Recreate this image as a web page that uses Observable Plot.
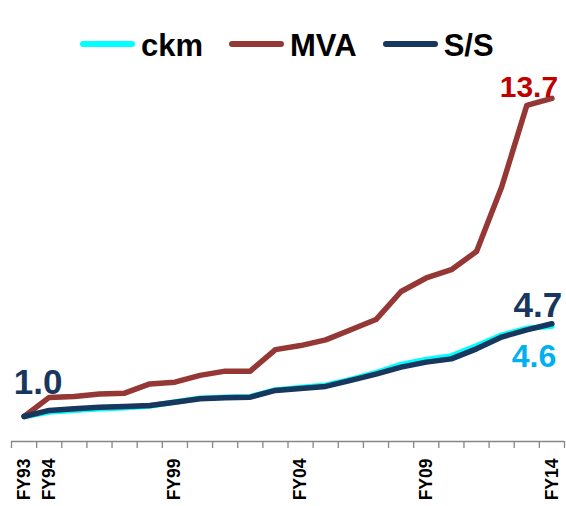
<!DOCTYPE html>
<html>
<head>
<meta charset="utf-8">
<script src="https://cdn.jsdelivr.net/npm/d3@7"></script>
<script src="https://cdn.jsdelivr.net/npm/@observablehq/plot@0.6"></script>
<style>
  html, body { margin: 0; padding: 0; background: #fff; }
  body { width: 566px; height: 506px; overflow: hidden; font-family: "Liberation Sans", Arial, sans-serif; }
  #legend { position: relative; height: 60px; }
  #legend .row { position: absolute; top: 30px; left: 80px; display: flex; align-items: center; white-space: nowrap; }
  #legend .item { display: flex; align-items: center; margin-right: 26px; }
  #legend .sw { width: 55px; height: 6px; border-radius: 3px; margin-right: 6px; margin-bottom: 3px; }
  #legend .lab { font-weight: bold; font-size: 31px; line-height: 31px; color: #000; }
  #chart svg { display: block; overflow: visible; }
</style>
</head>
<body>
<div id="legend"><div class="row"></div></div>
<div id="chart"></div>
<script>
const categories = ["FY93","FY94","FY95","FY96","FY97","FY98","FY99","FY00","FY01","FY02","FY03",
                    "FY04","FY05","FY06","FY07","FY08","FY09","FY10","FY11","FY12","FY13","FY14"];
const ckm = [1.0, 1.18, 1.25, 1.31, 1.35, 1.42, 1.58, 1.73, 1.77, 1.79, 2.06,
             2.16, 2.25, 2.48, 2.75, 3.08, 3.28, 3.42, 3.82, 4.25, 4.52, 4.6];
const mva = [1.0, 1.76, 1.80, 1.90, 1.93, 2.30, 2.37, 2.64, 2.81, 2.81, 3.67,
             3.83, 4.06, 4.46, 4.87, 5.99, 6.53, 6.86, 7.59, 10.16, 13.42, 13.7];
const ss  = [1.0, 1.24, 1.31, 1.37, 1.40, 1.44, 1.57, 1.71, 1.75, 1.77, 2.04,
             2.12, 2.20, 2.44, 2.69, 2.97, 3.17, 3.30, 3.70, 4.17, 4.46, 4.7];
const seriesNames = ["ckm", "MVA", "S/S"];
const tickLabels = ["FY93","FY94","FY99","FY04","FY09","FY14"];

const colors = {ckm: "#00FFFF", "MVA": "#953735", "S/S": "#17375E"};

// legend
const row = document.querySelector("#legend .row");
seriesNames.forEach(n => {
  const it = document.createElement("div"); it.className = "item";
  const sw = document.createElement("div"); sw.className = "sw"; sw.style.background = colors[n];
  const lb = document.createElement("span"); lb.className = "lab"; lb.textContent = n;
  it.appendChild(sw); it.appendChild(lb); row.appendChild(it);
});

const rows = categories.map((c, i) => ({i, cat: c, ckm: ckm[i], mva: mva[i], ss: ss[i]}));
const last = rows.length - 1;
const fmt = d3.format(".1f");
const boundaries = d3.range(categories.length + 1).map(k => k - 0.5);
const lineOpts = {strokeWidth: 5.5, strokeLinecap: "round", strokeLinejoin: "round"};

const chart = Plot.plot({
  width: 566,
  height: 446,
  marginLeft: 11,
  marginRight: 2,
  marginTop: 30.4,
  marginBottom: 65,
  x: {type: "linear", domain: [-0.5, categories.length - 0.5], axis: null},
  y: {domain: [0, 14], axis: null},
  style: {fontFamily: "'Liberation Sans', Arial, sans-serif", background: "transparent", overflow: "visible"},
  marks: [
    Plot.ruleY([0], {stroke: "#868686", strokeWidth: 1.3}),
    Plot.ruleX(boundaries, {x: d => d, y1: 0, y2: -0.28, stroke: "#868686", strokeWidth: 1.3}),
    Plot.line(rows, {x: "i", y: "ckm", stroke: colors.ckm, ...lineOpts}),
    Plot.line(rows, {x: "i", y: "mva", stroke: colors["MVA"], ...lineOpts}),
    Plot.line(rows, {x: "i", y: "ss", stroke: colors["S/S"], ...lineOpts}),
    Plot.text(tickLabels, {x: d => categories.indexOf(d), y: 0, text: d => d, rotate: -90,
      textAnchor: "end", dy: 17, fontWeight: "bold", fontSize: 17.5, fill: "#000"}),
    Plot.text([rows[last]], {x: "i", y: "mva", text: d => fmt(d.mva), fill: "#C00000",
      fontWeight: "bold", fontSize: 30, textAnchor: "middle", lineAnchor: "bottom", dx: -23, dy: -1}),
    Plot.text([rows[last]], {x: "i", y: "ss", text: d => fmt(d.ss), fill: "#17375E",
      fontWeight: "bold", fontSize: 35, textAnchor: "middle", lineAnchor: "bottom", dx: -14, dy: -7}),
    Plot.text([rows[last]], {x: "i", y: "ckm", text: d => fmt(d.ckm), fill: "#00B0F0",
      fontWeight: "bold", fontSize: 32, textAnchor: "middle", lineAnchor: "bottom", dx: -18, dy: 41}),
    Plot.text([rows[0]], {x: "i", y: "ss", text: d => fmt(d.ss), fill: "#17375E",
      fontWeight: "bold", fontSize: 35, textAnchor: "middle", lineAnchor: "bottom", dx: 14, dy: -22})
  ]
});
document.getElementById("chart").appendChild(chart);
</script>
</body>
</html>
